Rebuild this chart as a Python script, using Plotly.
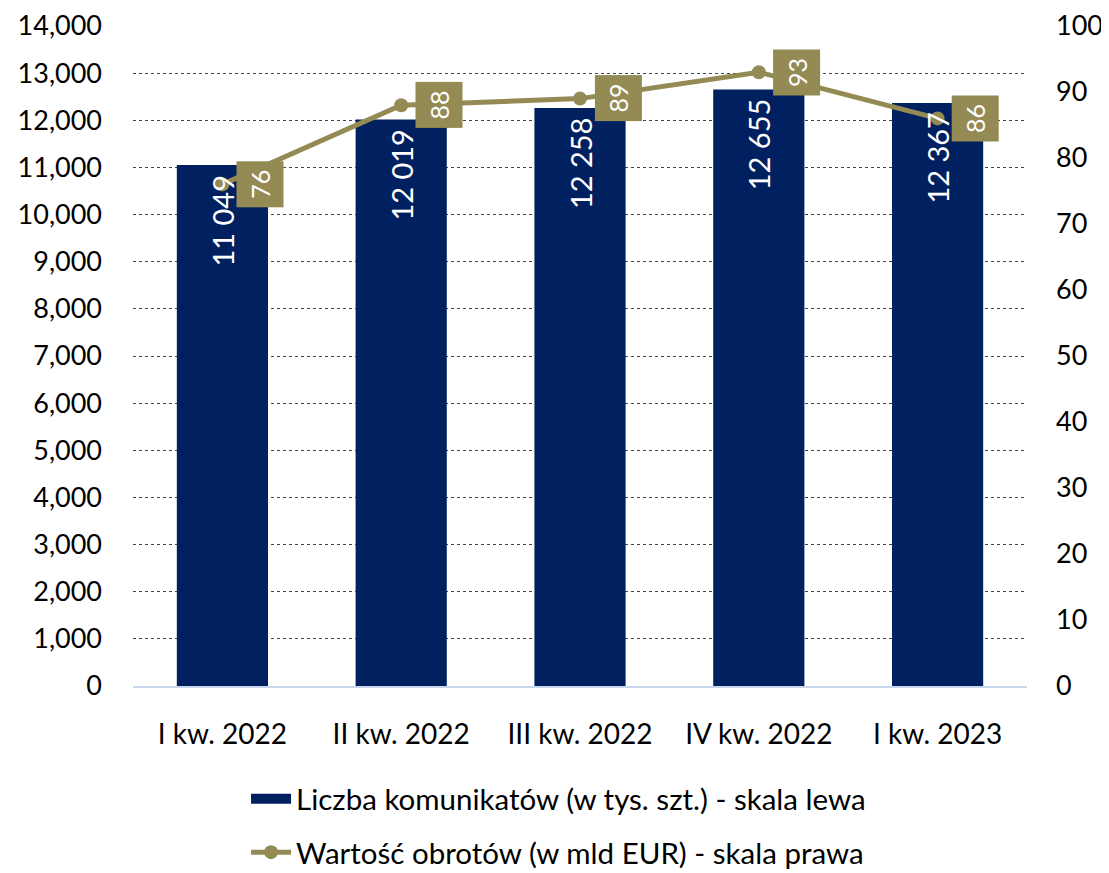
import plotly.graph_objects as go

categories = ["I kw. 2022", "II kw. 2022", "III kw. 2022", "IV kw. 2022", "I kw. 2023"]
messages = [11049, 12019, 12258, 12655, 12367]
turnover = [76, 88, 89, 93, 86]

bar_name = "Liczba komunikatów (w tys. szt.) - skala lewa"
line_name = "Wartość obrotów (w mld EUR) - skala prawa"

NAVY = "#002060"
OLIVE = "#948A54"
FONT = "Lato"

fig = go.Figure()
fig.add_trace(go.Bar(
    x=categories, y=messages, name=bar_name, yaxis="y",
    marker=dict(color=NAVY, line=dict(width=0)),
    width=0.51, showlegend=False,
))
# legend entry for the bars (wide rectangle symbol)
fig.add_trace(go.Scatter(
    x=[None], y=[None], name=bar_name, mode="lines",
    line=dict(color=NAVY, width=18), legendgroup="a",
))
fig.add_trace(go.Scatter(
    x=categories, y=turnover, name=line_name, yaxis="y2",
    mode="lines+markers",
    line=dict(color=OLIVE, width=5),
    marker=dict(color=OLIVE, size=14),
    legendgroup="b",
))

for c, v in zip(categories, messages):
    fig.add_annotation(
        x=c, y=v, xref="x", yref="y", text=f"{v:,}".replace(",", " "),
        showarrow=False, textangle=-90, yanchor="top", xanchor="center",
        yshift=-7, font=dict(color="white", size=29, family=FONT),
    )

for c, v in zip(categories, turnover):
    fig.add_annotation(
        x=c, y=v, xref="x", yref="y2", text=str(v), showarrow=False,
        xshift=38, textangle=-90, bgcolor=OLIVE, borderpad=8,
        font=dict(color="white", size=25, family=FONT),
    )

fig.update_layout(
    width=1101, height=865,
    margin=dict(l=125, r=82, t=18, b=187, autoexpand=False),
    paper_bgcolor="white", plot_bgcolor="white",
    font=dict(family=FONT, size=27, color="black"),
    showlegend=True,
    legend=dict(orientation="v", x=0.476, xanchor="center", y=-0.132, yanchor="top",
                font=dict(size=29.5, family=FONT), tracegroupgap=12,
                itemwidth=40),
    xaxis=dict(showgrid=False, showline=True, linecolor="#C9D7EC", linewidth=2,
               ticks="", ticklabelstandoff=22, tickfont=dict(size=28),
               automargin=False),
    yaxis=dict(range=[0, 14000], dtick=1000, tickformat=",d", showgrid=True,
               gridcolor="#444444", griddash="dot", gridwidth=1, zeroline=False,
               ticklabelstandoff=30, tickfont=dict(size=27), showline=False,
               automargin=False),
    yaxis2=dict(range=[0, 100], dtick=10, overlaying="y", side="right",
                showgrid=False, zeroline=False, ticklabelstandoff=28,
                tickfont=dict(size=27), automargin=False),
    bargap=0.49,
)

fig.write_html("out.html")
